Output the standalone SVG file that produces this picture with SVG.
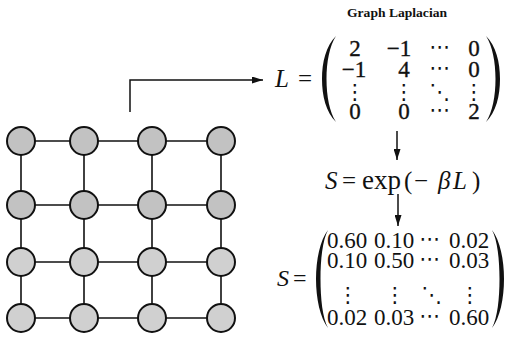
<svg xmlns="http://www.w3.org/2000/svg" width="509" height="337" viewBox="0 0 509 337">
<defs>
<style>
.edge{stroke:#111;stroke-width:1.6;fill:none}
.node{stroke:#111;stroke-width:2;fill:#c2c2c2}
.lt{fill:#d0d0d0}
.conn{stroke:#111;stroke-width:1.5;fill:none}
.m{font-family:"Liberation Serif","DejaVu Serif",serif;font-size:23px;fill:#111}
.bm{stroke:#111;stroke-width:0.35}
.e{text-anchor:middle}
.i{font-style:italic}
.d{font-family:"DejaVu Serif","DejaVu Sans",serif;font-size:21px;stroke:none}
.par{fill:#111}
.title{font-family:"Liberation Serif","DejaVu Serif",serif;font-size:13px;font-weight:bold;fill:#111}
</style>
<marker id="ah" markerUnits="userSpaceOnUse" markerWidth="11" markerHeight="7" refX="11" refY="3.5" orient="auto">
<path d="M0,0 L11,3.5 L0,7 Z" fill="#111"/>
</marker>
</defs>
<rect width="509" height="337" fill="#fff"/>

<g id="grid-edges" class="edges">
<line class="edge" x1="21" y1="141" x2="221" y2="141"/>
<line class="edge" x1="21" y1="205" x2="221" y2="205"/>
<line class="edge" x1="21" y1="262" x2="221" y2="262"/>
<line class="edge" x1="21" y1="318" x2="221" y2="318"/>
<line class="edge" x1="21" y1="141" x2="21" y2="318"/>
<line class="edge" x1="84" y1="141" x2="84" y2="318"/>
<line class="edge" x1="152" y1="141" x2="152" y2="318"/>
<line class="edge" x1="221" y1="141" x2="221" y2="318"/>
</g>

<g id="nodes">
<g id="n11"><circle class="node" cx="21" cy="141" r="14"/></g>
<g id="n12"><circle class="node" cx="84" cy="141" r="14"/></g>
<g id="n13"><circle class="node" cx="152" cy="141" r="14"/></g>
<g id="n14"><circle class="node" cx="221" cy="141" r="14"/></g>
<g id="n21"><circle class="node" cx="21" cy="205" r="14"/></g>
<g id="n22"><circle class="node" cx="84" cy="205" r="14"/></g>
<g id="n23"><circle class="node" cx="152" cy="205" r="14"/></g>
<g id="n24"><circle class="node" cx="221" cy="205" r="14"/></g>
<g id="n31"><circle class="node lt" cx="21" cy="262" r="14"/></g>
<g id="n32"><circle class="node lt" cx="84" cy="262" r="14"/></g>
<g id="n33"><circle class="node lt" cx="152" cy="262" r="14"/></g>
<g id="n34"><circle class="node lt" cx="221" cy="262" r="14"/></g>
<g id="n41"><circle class="node lt" cx="21" cy="318" r="14"/></g>
<g id="n42"><circle class="node lt" cx="84" cy="318" r="14"/></g>
<g id="n43"><circle class="node lt" cx="152" cy="318" r="14"/></g>
<g id="n44"><circle class="node lt" cx="221" cy="318" r="14"/></g>
</g>

<g id="connectors">
<path class="conn" d="M130,112 V80 H263" marker-end="url(#ah)"/>
<path class="conn" d="M397,131 V160" marker-end="url(#ah)"/>
<path class="conn" d="M398,194 V226" marker-end="url(#ah)"/>
</g>

<g id="title">
<text class="title" x="347" y="17" textLength="100" lengthAdjust="spacingAndGlyphs">Graph Laplacian</text>
</g>

<g id="laplacian">
<text class="m" y="87" style="font-size:25px"><tspan class="i" x="275">L</tspan><tspan x="298">=</tspan></text>
<path class="par" d="M336,36 C326,46 322,62 322,79 C322,96 326,112 336,122 C329.5,112 326.5,96 326.5,79 C326.5,62 329.5,46 336,36 Z"/>
<path class="par" d="M486,36 C496,46 500,62 500,79 C500,96 496,112 486,122 C492.5,112 495.5,96 495.5,79 C495.5,62 492.5,46 486,36 Z"/>
<text class="m e bm"><tspan x="355" y="56">2</tspan><tspan x="399" y="56">−1</tspan><tspan class="d" x="440" y="54">⋯</tspan><tspan x="474" y="56">0</tspan><tspan x="354" y="77">−1</tspan><tspan x="404" y="77">4</tspan><tspan class="d" x="440" y="75">⋯</tspan><tspan x="474" y="77">0</tspan><tspan class="d" x="355" y="99">⋮</tspan><tspan class="d" x="404" y="99">⋮</tspan><tspan class="d" x="440" y="99">⋱</tspan><tspan class="d" x="474" y="99">⋮</tspan><tspan x="355" y="119">0</tspan><tspan x="404" y="119">0</tspan><tspan class="d" x="440" y="117">⋯</tspan><tspan x="474" y="119">2</tspan></text>
</g>

<g id="kernel">
<text class="m" y="189" style="font-size:25px"><tspan class="i" x="325">S</tspan><tspan x="342">=</tspan><tspan x="362" style="font-size:27px">exp</tspan><tspan x="404">(</tspan><tspan x="414">−</tspan><tspan class="i" x="438">β</tspan><tspan class="i" x="453">L</tspan><tspan x="472">)</tspan></text>
</g>

<g id="similarity">
<text class="m" y="286" style="font-size:24px"><tspan class="i" x="277">S</tspan><tspan x="293">=</tspan></text>
<path class="par" d="M328,230 C320,240 316,260 316,279 C316,298 320,318 328,328 C322.5,318 320.5,298 320.5,279 C320.5,260 322.5,240 328,230 Z"/>
<path class="par" d="M492,230 C500,240 504,260 504,279 C504,298 500,318 492,328 C497.5,318 499.5,298 499.5,279 C499.5,260 497.5,240 492,230 Z"/>
<text class="m e"><tspan x="347" y="248">0.60</tspan><tspan x="394" y="248">0.10</tspan><tspan class="d" x="430" y="246">⋯</tspan><tspan x="469" y="248">0.02</tspan><tspan x="347" y="268">0.10</tspan><tspan x="394" y="268">0.50</tspan><tspan class="d" x="430" y="266">⋯</tspan><tspan x="469" y="268">0.03</tspan><tspan class="d" x="348" y="302">⋮</tspan><tspan class="d" x="395" y="302">⋮</tspan><tspan class="d" x="432" y="302">⋱</tspan><tspan class="d" x="470" y="302">⋮</tspan><tspan x="347" y="325">0.02</tspan><tspan x="394" y="325">0.03</tspan><tspan class="d" x="430" y="323">⋯</tspan><tspan x="469" y="325">0.60</tspan></text>
</g>
</svg>
